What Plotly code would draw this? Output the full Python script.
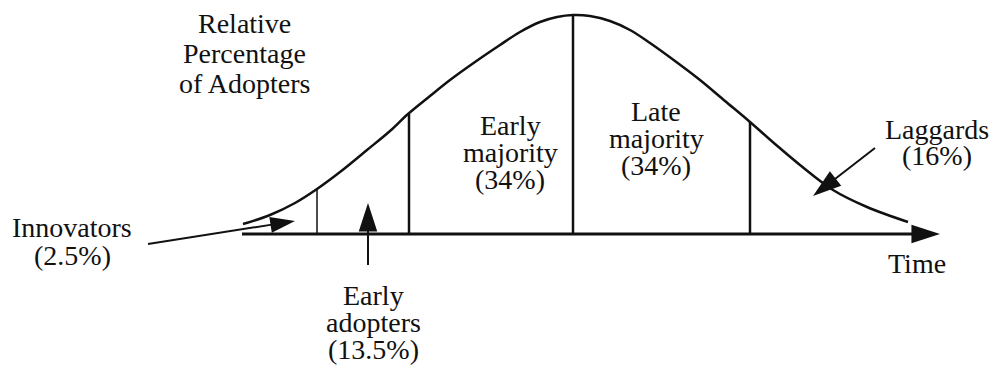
import plotly.graph_objects as go

W, H = 998, 369
BASE = 234  # pixel row of the time axis; data y is height above it

FONT = "Liberation Serif"
INK = "#111111"

# adoption curve
time = [243, 270, 295, 317, 340, 367, 390, 408, 430, 450, 475, 500, 520, 540,
        557, 573, 590, 610, 630, 650, 675, 700, 725, 750, 775, 800, 833, 867, 908]
adopters = [10, 19, 31, 45, 62, 84, 103, 120, 138, 154, 172, 189, 202, 212,
            217, 219, 218, 213, 204, 191, 173, 154, 133, 112, 90, 69, 44, 27, 12]

# boundaries between adopter categories
boundary_time = [317, 409, 573, 750]
boundary_height = [45, 120, 219, 112]

axis_time = [242, 940]

# pointer arrows: (x from, x to), (y from, y to), head size
arrows = {
    "innovators": ([148, 295], [-10, 13], 26),
    "early_adopters": ([368, 368], [-31, 31], 30),
    "laggards": ([875, 813], [86, 38], 30),
}

# text blocks: lines, centre x (px), first baseline (px), line step (px)
labels = [
    (["Relative", "Percentage", "of Adopters"], 244, 32, 30),
    (["Innovators", "(2.5%)"], 72, 236, 28),
    (["Early", "adopters", "(13.5%)"], 373, 304, 27),
    (["Early", "majority", "(34%)"], 510, 134, 27),
    (["Late", "majority", "(34%)"], 656, 120, 27),
    (["Laggards", "(16%)"], 937, 138, 26),
    (["Time"], 917, 272, 27),
]


def add_arrow(fig, xs, ys, size, width=2):
    fig.add_trace(
        go.Scatter(
            x=xs,
            y=ys,
            mode="lines+markers",
            line=dict(color=INK, width=width),
            marker=dict(
                symbol="arrow",
                size=[0, size],
                angleref="previous",
                color=INK,
                opacity=1,
                line=dict(width=0),
            ),
            hoverinfo="skip",
        )
    )


fig = go.Figure()

fig.add_trace(
    go.Scatter(
        x=time,
        y=adopters,
        mode="lines",
        line=dict(color=INK, width=2.5, shape="spline", smoothing=1.0),
        hoverinfo="skip",
    )
)

for i, (t, h) in enumerate(zip(boundary_time, boundary_height)):
    fig.add_trace(
        go.Scatter(
            x=[t, t],
            y=[0, h],
            mode="lines",
            line=dict(color=INK, width=1.5 if i == 0 else 2.5),
            hoverinfo="skip",
        )
    )

add_arrow(fig, axis_time, [0, 0], 30, width=3)
for xs, ys, size in arrows.values():
    add_arrow(fig, xs, ys, size)

for lines, cx, first, step in labels:
    for i, line in enumerate(lines):
        base = first + i * step
        fig.add_annotation(
            x=cx,
            y=BASE - (base - 9),
            xref="x",
            yref="y",
            text=line,
            showarrow=False,
            xanchor="center",
            yanchor="middle",
            font=dict(family=FONT, size=28, color=INK),
        )

fig.update_layout(
    width=W,
    height=H,
    margin=dict(l=0, r=0, t=0, b=0),
    paper_bgcolor="white",
    plot_bgcolor="white",
    showlegend=False,
    xaxis=dict(range=[0, W], visible=False, fixedrange=True),
    yaxis=dict(range=[BASE - H, BASE], visible=False, fixedrange=True),
)

# drop the browser's default body margin so the figure sits at the page corner
fig.write_html(
    "out.html",
    config={"displayModeBar": False},
    post_script="document.body.style.margin = '0';",
)
